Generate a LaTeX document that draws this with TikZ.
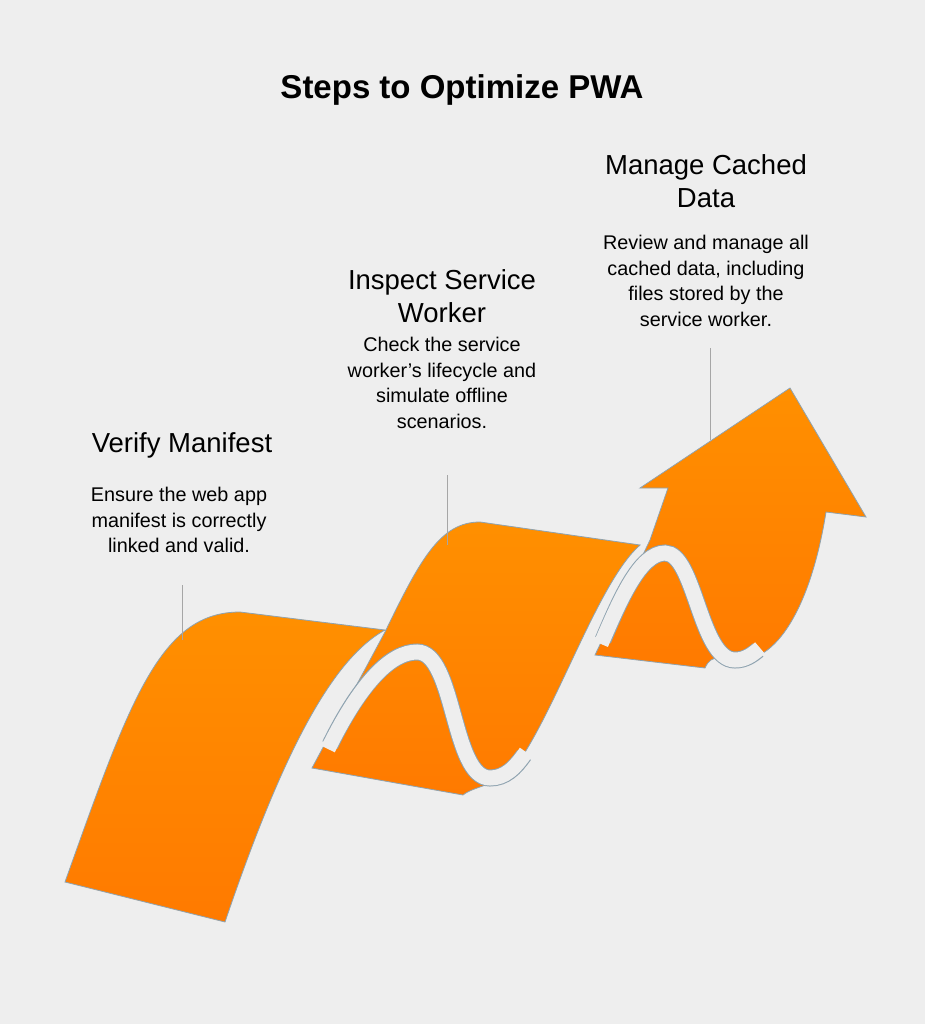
\documentclass[tikz,border=0pt]{standalone}
\usepackage{fontspec}
\setmainfont{Liberation Sans}
\begin{document}
\begin{tikzpicture}[x=1pt,y=-1pt,
  rib/.style={top color=orange!75!yellow!90!red, bottom color=ribb, draw=edge, line width=0.8pt},
  band/.style={draw=edge, line width=17pt, line cap=butt},
  bandin/.style={draw=bg, line width=15pt, line cap=butt},
  callout/.style={draw=gray!70, line width=0.8pt},
  head/.style={align=center, font=\fontsize{27.5}{33}\selectfont},
  body/.style={align=center, font=\fontsize{19.8}{25.5}\selectfont}]
\definecolor{bg}{HTML}{EEEEEE}
\definecolor{ribb}{HTML}{FF7A00}
\definecolor{edge}{HTML}{8FA3B0}
\path[fill=bg] (0,0) rectangle (925,1024);
\useasboundingbox (0,0) rectangle (925,1024);
\node[font=\bfseries\fontsize{33}{38}\selectfont] (title) at (462,90) {Steps to Optimize PWA};
% piece B
\path[rib] (312,768) -- (385,632) .. controls (420,560) and (440,522) .. (480,522) -- (640,545) .. controls (600,580) and (560,700) .. (520,760) .. controls (505,785) and (475,785) .. (463,795) -- cycle;
% piece C (arrow)
\path[rib] (595,655) -- (650,540) -- (668,488) -- (640,488) -- (790,388) -- (866,517) -- (826,512) .. controls (812,600) and (780,660) .. (740,660) .. controls (722,660) and (712,652) .. (705,668) -- cycle;
% white bands
\draw[band] (330,745) .. controls (362,680) and (392,652) .. (417,652) .. controls (455,652) and (452,778) .. (490,778) .. controls (505,778) and (515,768) .. (524,755);
\draw[bandin] (328,749) .. controls (362,680) and (392,652) .. (417,652) .. controls (455,652) and (452,778) .. (490,778) .. controls (505,778) and (515,768) .. (526,752);
\draw[band] (603,640) .. controls (620,600) and (640,553) .. (665,553) .. controls (695,553) and (700,660) .. (735,660) .. controls (745,660) and (752,655) .. (758,650);
\draw[bandin] (601,644) .. controls (620,600) and (640,553) .. (665,553) .. controls (695,553) and (700,660) .. (735,660) .. controls (745,660) and (752,655) .. (760,648);
% piece A
\path[rib] (65,882) .. controls (130,700) and (160,612) .. (240,612) -- (385,630) .. controls (330,660) and (280,760) .. (225,922) -- cycle;
% callouts
\coordinate (c1a) at (182,585); \coordinate (c1b) at (182,640);
\coordinate (c2a) at (447,475); \coordinate (c2b) at (447,545);
\coordinate (c3a) at (710,348); \coordinate (c3b) at (710,440);
\draw[callout] (c1a) -- (c1b);
\draw[callout] (c2a) -- (c2b);
\draw[callout] (c3a) -- (c3b);
% texts
\node[head] (h1) at (182,445) {Verify Manifest};
\node[body] (b1) at (179,520) {Ensure the web app\\manifest is correctly\\linked and valid.};
\node[head] (h2) at (442,296) {Inspect Service\\Worker};
\node[body] (b2) at (442,383) {Check the service\\worker's lifecycle and\\simulate offline\\scenarios.};
\node[head] (h3) at (706,181) {Manage Cached\\Data};
\node[body] (b3) at (706,281) {Review and manage all\\cached data, including\\files stored by the\\service worker.};
\end{tikzpicture}
\end{document}
